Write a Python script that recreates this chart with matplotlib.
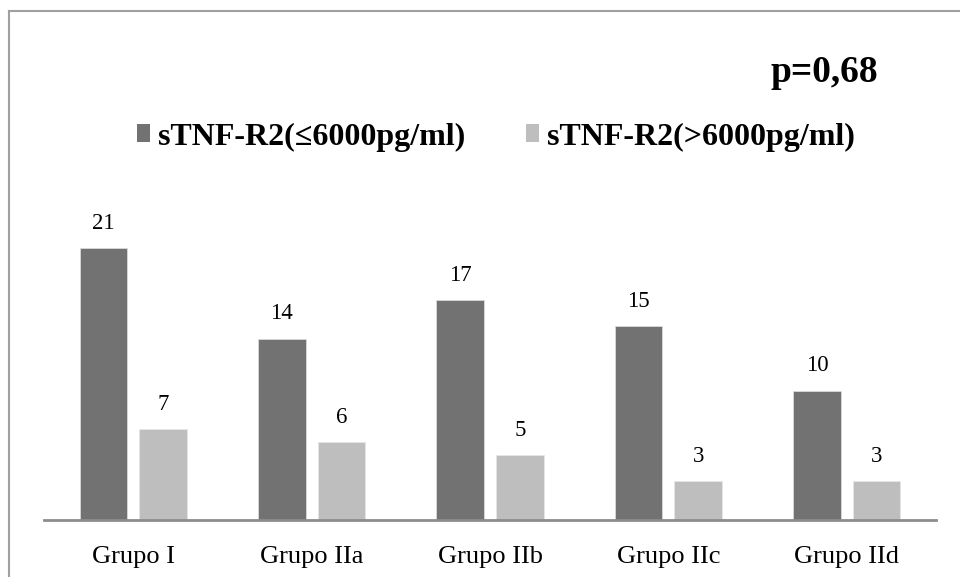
import numpy as np
import matplotlib
matplotlib.use("Agg")
import matplotlib.pyplot as plt
from matplotlib.patches import Patch
from matplotlib.lines import Line2D

plt.rcParams["font.family"] = ["Liberation Serif", "DejaVu Serif"]

groups = ["Grupo I", "Grupo IIa", "Grupo IIb", "Grupo IIc", "Grupo IId"]
low = [21, 14, 17, 15, 10]
high = [7, 6, 5, 3, 3]
labels = ["sTNF-R2(≤6000pg/ml)", "sTNF-R2(>6000pg/ml)"]
p_text = "p=0,68"

DARK, LIGHT = "#727272", "#bebebe"
W, H = 960, 577

fig = plt.figure(figsize=(9.6, 5.77), dpi=100)
# axes: x 44..936 px, baseline at y=520, top at y=200
ax = fig.add_axes([44 / W, (H - 520) / H, 892 / W, 320 / H])
x = np.arange(len(groups))
w = 0.267
off = 0.167
ax.bar(x - off, low, w, color=DARK, edgecolor="#d9d9d9", linewidth=0.6)
ax.bar(x + off, high, w, color=LIGHT, edgecolor="#e6e6e6", linewidth=0.6)
for i in range(len(groups)):
    ax.text(x[i] - off, low[i] + 1.1, str(low[i]), ha="center", va="bottom", fontsize=16.5)
    ax.text(x[i] + off, high[i] + 1.1, str(high[i]), ha="center", va="bottom", fontsize=16.5)

ax.set_xlim(-0.5, len(groups) - 0.5)
ax.set_ylim(0, 320 / 12.95)
for s in ["top", "right", "left"]:
    ax.spines[s].set_visible(False)
ax.spines["bottom"].set_color("#8c8c8c")
ax.spines["bottom"].set_linewidth(2)
ax.set_yticks([])
ax.set_xticks(x)
ax.set_xticklabels(groups, fontsize=19)
ax.tick_params(axis="x", length=0, pad=19)

fig.text(878 / W, 1 - 72 / H, p_text, ha="right", va="center", fontsize=27, fontweight="bold")

fig.legend(handles=[Patch(fc=DARK, label=labels[0]), Patch(fc=LIGHT, label=labels[1])],
           loc="center", bbox_to_anchor=(496 / W, 1 - 137 / H), ncol=2, frameon=False,
           prop={"size": 23, "weight": "bold"}, handlelength=0.4, handleheight=0.5,
           handletextpad=0.25, columnspacing=1.9)

# outer frame (top and left edges visible)
fig.add_artist(Line2D([8.5 / W, 1], [1 - 11 / H, 1 - 11 / H], color="#a0a0a0", lw=1.5,
                      transform=fig.transFigure))
fig.add_artist(Line2D([8.5 / W, 8.5 / W], [0, 1 - 11 / H], color="#a0a0a0", lw=1.5,
                      transform=fig.transFigure))

fig.savefig("out.png", dpi=100)
